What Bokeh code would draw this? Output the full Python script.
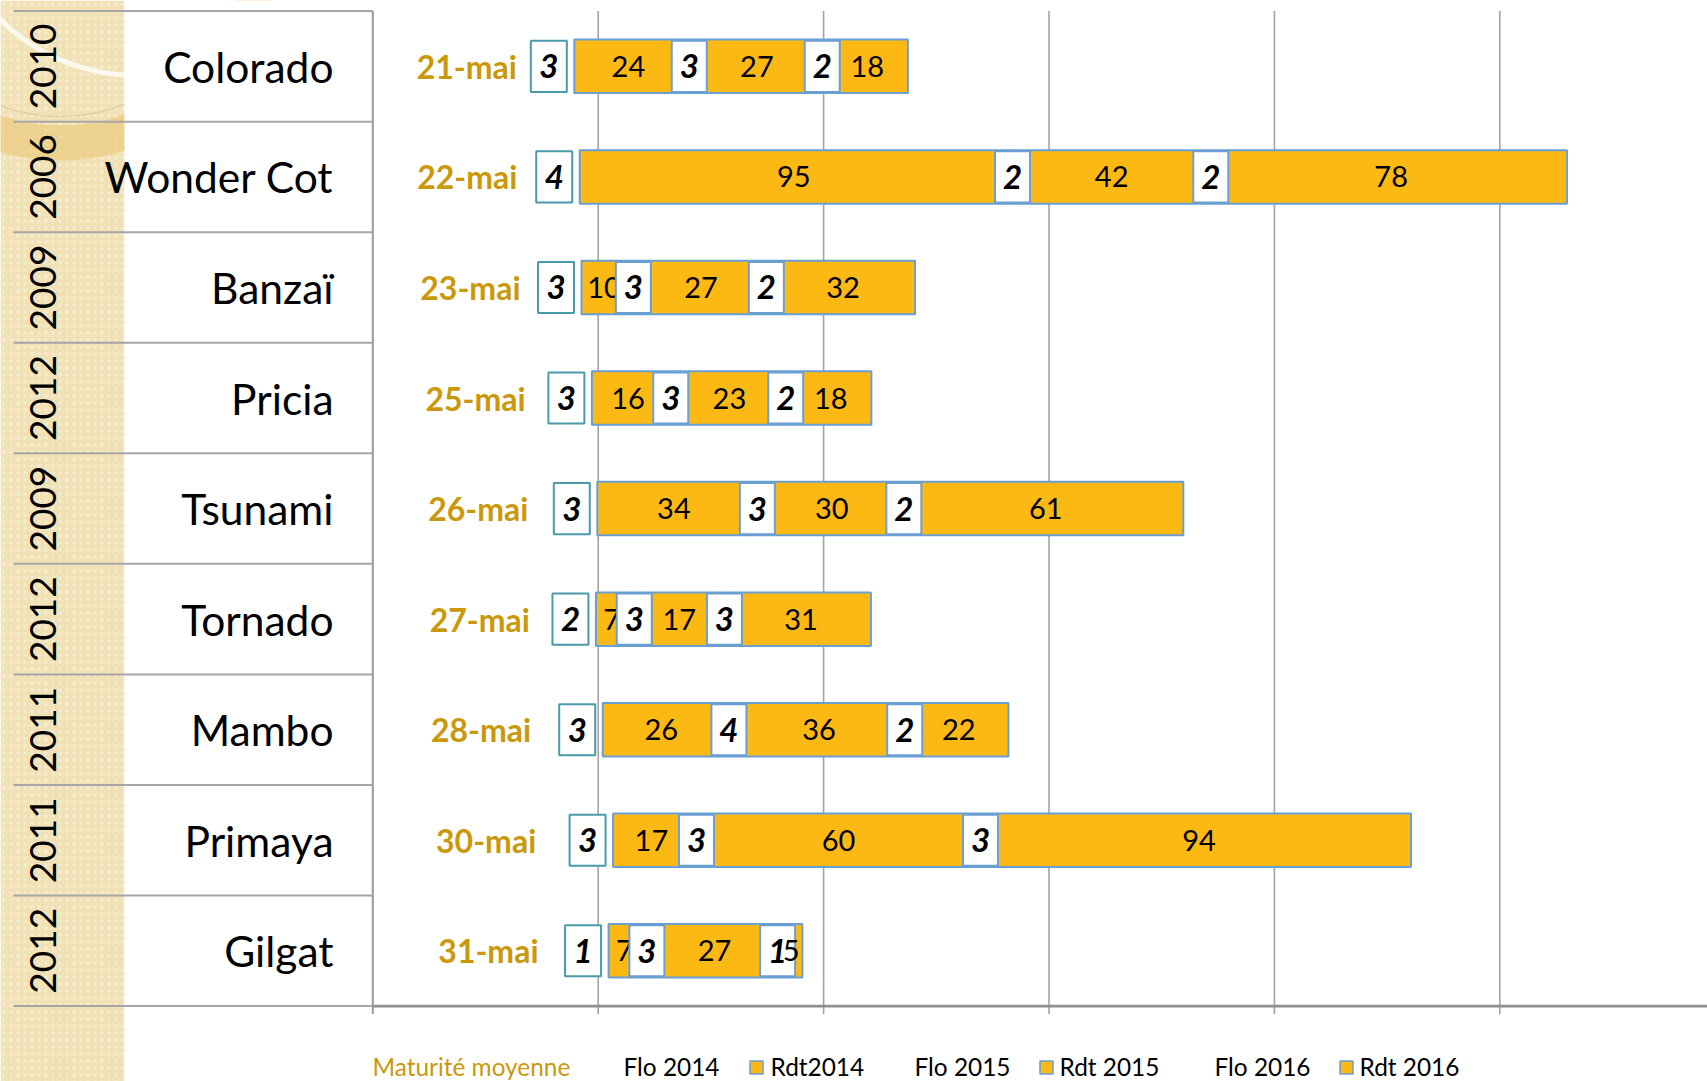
import numpy as np
from bokeh.plotting import figure
from bokeh.models import Range1d
from bokeh.core.properties import value
from bokeh.embed import file_html
from bokeh.resources import INLINE

# ---------------- data ----------------
varietes = ["Colorado", "Wonder Cot", "Banzaï", "Pricia", "Tsunami",
            "Tornado", "Mambo", "Primaya", "Gilgat"]
annees = ["2010", "2006", "2009", "2012", "2009", "2012", "2011", "2011", "2012"]
dates = ["21-mai", "22-mai", "23-mai", "25-mai", "26-mai",
         "27-mai", "28-mai", "30-mai", "31-mai"]
maturite = [41.7, 41.9, 43.3, 45.6, 46.8, 47.5, 48.0, 50.3, 51.3]
flo2014 = [3, 4, 3, 3, 3, 2, 3, 3, 1]
rdt2014 = [24, 95, 10, 16, 34, 7, 26, 17, 7]
flo2015 = [3, 2, 3, 3, 3, 3, 4, 3, 3]
rdt2015 = [27, 42, 27, 23, 30, 17, 36, 60, 27]
flo2016 = [2, 2, 2, 2, 2, 3, 2, 3, 1]
rdt2016 = [18, 78, 32, 18, 61, 31, 22, 94, 5]
x_ticks = [0, 50, 100, 150, 200, 250]
legend_labels = ["Maturité moyenne", "Flo 2014", "Rdt2014", "Flo 2015",
                 "Rdt 2015", "Flo 2016", "Rdt 2016"]

# ---------------- layout constants ----------------
W, H = 1707, 1081
PXU = 4.508      # px per value unit
X0 = 372.3       # canvas px of value 0
ROW0 = 65.85     # canvas px of first row centre
ROWH = 110.56    # row height px


def ux(px):
    return (px - X0) / PXU


def uy(py):
    return (py - ROW0) / ROWH


ORANGE = "#fdb913"
BLUE = "#6a9fd4"
TEAL = "#4a9aaa"
GOLD = "#c9980b"
GRID = "#a3a3a3"
FONT = value("Lato")

n = len(varietes)
rows = np.arange(n)
mat = np.array(maturite, float)
s14 = mat + np.array(flo2014)           # start of Rdt 2014
e14 = s14 + np.array(rdt2014)
e_f15 = e14 + np.array(flo2015)
e15 = e_f15 + np.array(rdt2015)
e_f16 = e15 + np.array(flo2016)
e16 = e_f16 + np.array(rdt2016)

p = figure(width=W, height=H, title=None,
           x_range=Range1d(ux(0), ux(W)), y_range=Range1d(uy(H), uy(0)),
           output_backend="svg", toolbar_location=None, min_border=0,
           x_axis_location=None, y_axis_location=None)
p.grid.visible = False
p.outline_line_color = None
p.background_fill_color = "white"
p.border_fill_color = "white"

# ---------------- decorative left band ----------------
ytop, ybot = uy(H), uy(0)
p.quad(left=ux(0), right=ux(124), top=ytop, bottom=ybot,
       fill_color="#f1e1b6", line_color=None,
       hatch_pattern="dot", hatch_color="#f8efd6", hatch_scale=7, hatch_alpha=0.7)
p.annular_wedge(x=ux(60), y=uy(-60), inner_radius=185, outer_radius=220,
                inner_radius_units="screen", outer_radius_units="screen",
                start_angle=0, end_angle=2 * np.pi,
                fill_color="#ebc773", fill_alpha=0.6, line_color=None)
p.arc(x=ux(60), y=uy(-60), radius=176, radius_units="screen",
      start_angle=0, end_angle=2 * np.pi, line_color="#d9c08a",
      line_width=1.2, line_alpha=0.6)
p.arc(x=ux(136), y=uy(-119), radius=194, radius_units="screen",
      start_angle=0, end_angle=2 * np.pi, line_color="white",
      line_width=5, line_alpha=0.75)
p.quad(left=ux(124), right=0, top=ytop, bottom=ybot,
       fill_color="white", line_color=None)

# ---------------- grid & axes ----------------
tick_len = 8 / ROWH
p.segment(x0=x_ticks[1:], x1=x_ticks[1:], y0=-0.5, y1=n - 0.5 + tick_len,
          line_color=GRID, line_width=1.6)
p.segment(x0=[0], x1=[0], y0=[-0.5], y1=[n - 0.5 + tick_len],
          line_color="#999999", line_width=2)
bounds = np.arange(n + 1) - 0.5
p.segment(x0=ux(13), x1=0, y0=bounds, y1=bounds, line_color="#a6a6a6", line_width=2)
p.segment(x0=[0], x1=[ux(W)], y0=[n - 0.5], y1=[n - 0.5],
          line_color="#8f8f8f", line_width=2.8)

# ---------------- bars ----------------
BAR_H = 0.484
BOX_H = 0.462
rdt_series = [(s14, e14, rdt2014), (e_f15, e15, rdt2015), (e_f16, e16, rdt2016)]
flo_series = [(e14, e_f15, flo2015), (e15, e_f16, flo2016)]

for left, right, _ in rdt_series:
    p.hbar(y=rows, left=left, right=right, height=BAR_H,
           fill_color=ORANGE, line_color=BLUE, line_width=2)
for left, right, _ in flo_series:
    p.hbar(y=rows, left=left, right=right, height=BAR_H,
           fill_color="white", line_color=BLUE, line_width=2)


def seg_labels(left, right, vals):
    p.text(x=(left + right) / 2, y=rows, text=[str(v) for v in vals], text_font=FONT,
           text_font_size="29px", text_align="center", text_baseline="middle",
           text_color="black")


def box_labels(xc, vals, border, w):
    p.rect(x=xc, y=rows, width=w, width_units="screen", height=BOX_H,
           fill_color="white", line_color=border, line_width=2)
    p.text(x=xc, y=rows, text=[str(v) for v in vals], text_font=FONT,
           text_font_size="33px", text_font_style="bold italic", text_align="center",
           text_baseline="middle", text_color="black")


# labels drawn series by series, as in the original
box_labels(s14 - 25.5 / PXU, flo2014, TEAL, 36)
p.text(x=mat / 2, y=rows, text=dates, text_font=FONT, text_font_size="32px",
       text_font_style="bold", text_align="center", text_baseline="middle",
       text_color=GOLD)
seg_labels(*rdt_series[0])
box_labels((e14 + e_f15) / 2, flo2015, BLUE, 35)
seg_labels(*rdt_series[1])
box_labels((e15 + e_f16) / 2, flo2016, BLUE, 35)
seg_labels(*rdt_series[2])

# ---------------- category labels ----------------
p.text(x=[ux(333)] * n, y=rows, text=varietes, text_font=FONT, text_font_size="42.5px",
       text_align="right", text_baseline="middle", text_color="black")
p.text(x=[ux(42)] * n, y=rows, text=annees, text_font=FONT, text_font_size="37px",
       text_align="center", text_baseline="middle", text_color="black", angle=np.pi / 2)

# ---------------- legend ----------------
leg_x = [372, 623, 770, 914, 1059, 1214, 1359]
leg_y = uy(1066)
leg_colors = [GOLD] + ["black"] * 6
p.text(x=[ux(v) for v in leg_x], y=[leg_y] * len(leg_x), text=legend_labels,
       text_font=FONT, text_font_size="24.4px", text_align="left",
       text_baseline="middle", text_color=leg_colors)
sw_x = [756, 1046, 1346]
p.rect(x=[ux(v) for v in sw_x], y=[uy(1067)] * 3, width=13, height=13,
       width_units="screen", height_units="screen",
       fill_color=ORANGE, line_color=BLUE, line_width=1.5)

open("out.html", "w").write(file_html(p, INLINE))
